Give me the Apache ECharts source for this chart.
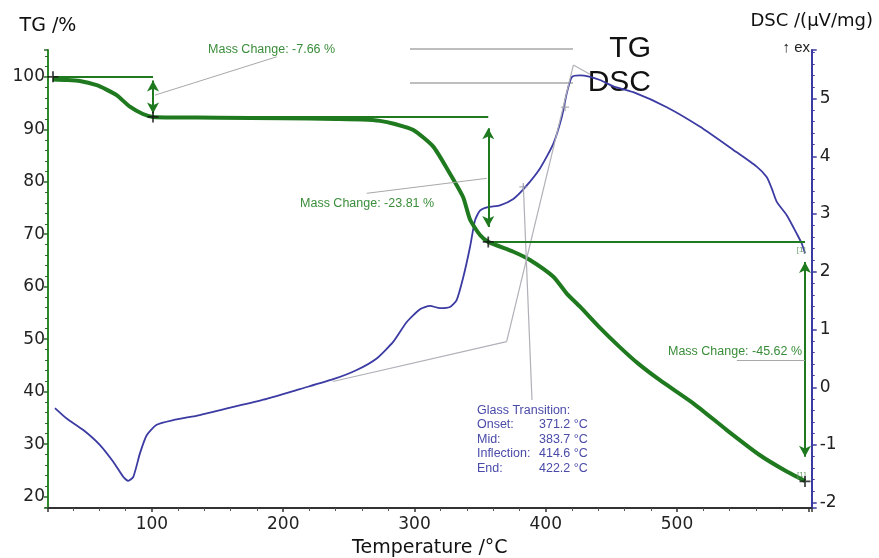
<!DOCTYPE html>
<html>
<head>
<meta charset="utf-8">
<script src="https://cdn.jsdelivr.net/npm/echarts@6/dist/echarts.min.js"></script>
<style>
  html, body { margin: 0; padding: 0; background: #fff; }
  #chart { width: 879px; height: 558px; }
</style>
</head>
<body>
<div id="chart"></div>
<script>
// TG curve (mass %) vs temperature
var tgTemp = [24.6, 35, 45, 57.9, 65, 73.1, 83.2, 93.1, 100.8, 120, 150, 200, 240, 260, 273.7, 285,
    299.1, 314.3, 325.5, 337, 342.3, 349.9, 356.2, 375.3, 388, 405.8, 416, 426.1, 440, 456, 470,
    487, 512.4, 537.9, 563.2, 583.6, 597.5];
var tgMass = [99.5, 99.4, 99.2, 98.4, 97.6, 96.5, 94.3, 92.9, 92.35, 92.25, 92.2, 92.1, 91.95, 91.85, 91.6, 91.0,
    89.85, 86.7, 82.2, 77.1, 72.8, 69.85, 68.55, 66.67, 65.1, 61.9, 58.7, 56.2, 52.5, 48.6, 45.45,
    42.2, 37.8, 32.7, 27.9, 24.8, 23.0];

// DSC curve (uV/mg) vs temperature
var dscTemp = [26.1, 35, 47.7, 60.4, 70.5, 78.1, 81.9, 85.8, 90.9, 96, 103.6, 116.2, 136.6, 162, 187.4,
    212.8, 238.1, 256, 271.2, 283.9, 294.1, 304.2, 311.8, 319.4, 327, 332.1, 337.2, 342.3, 346.1,
    349.9, 356, 365.1, 375.3, 384.2, 395.6, 405.8, 412.2, 416, 419.8, 426.1, 433, 441.3, 451.5,
    466.7, 492.2, 517.6, 542.9, 560.7, 568.3, 572.2, 576, 583.6, 591.2, 595, 597.5];
var dscVal = [-0.36, -0.54, -0.74, -1.0, -1.29, -1.55, -1.62, -1.55, -1.14, -0.83, -0.65, -0.57, -0.48, -0.34, -0.2,
    -0.03, 0.14, 0.3, 0.5, 0.79, 1.13, 1.35, 1.41, 1.37, 1.39, 1.51, 1.91, 2.43, 2.89,
    3.06, 3.12, 3.15, 3.26, 3.46, 3.79, 4.22, 4.68, 5.09, 5.37, 5.4, 5.38, 5.32, 5.21,
    5.11, 4.85, 4.51, 4.11, 3.82, 3.64, 3.44, 3.21, 2.98, 2.66, 2.49, 2.32];

// mass change evaluation
var stepTemps = [24.6, 100.8, 356.2, 597.5];
var massLevels = [100, 92.34, 68.53, 22.91];
var massChanges = ['-7.66', '-23.81', '-45.62'];
var arrowTop = [99.3, 90.2, 64.7];
var arrowBottom = [93.0, 71.4, 27.6];
var labelTemp = [142.7, 212.8, 493.1];
var labelMass = [105.1, 75.94, 47.56];
var leaderFrom = [[195, 103.8], [263.6, 77.8], [545.6, 46.0]];
var leaderTo = [[102.3, 96.5], [355, 80.65], [597.5, 46.0]];

// glass transition evaluation (DSC)
var gtNames = ['Onset:', 'Mid:', 'Inflection:', 'End:'];
var gtTemps = [371.2, 383.7, 414.6, 422.2];
var gtTangentTemp = [237.9, 370.2, 421.0, 433.7];
var gtTangentVal = [0.1, 0.79, 5.58, 5.42];
var gtMarkTemp = [382.9, 414.7];
var gtMarkVal = [3.47, 4.85];
var gtLeader = [[382.9, 3.5], [389.5, -0.22]];
var gtLabelPos = [347.6, -0.27];

var FONT = 'Liberation Sans, Arial, sans-serif';
var AXFONT = 'DejaVu Sans, Verdana, sans-serif';
var GREEN = '#1f7a1f';
var BLUE = '#3b3ba3';
var GREY = '#a8a8a8';
var CROSS = 'path://M0,4.2L10,4.2L10,5.8L0,5.8Z M4.2,0L5.8,0L5.8,10L4.2,10Z';

function pairs(xs, ys) {
    var out = [];
    for (var i = 0; i < xs.length; i++) out.push([xs[i], ys[i]]);
    return out;
}

var tgLines = [];
for (var i = 0; i < 3; i++) {
    // horizontal level lines
    tgLines.push([{ coord: [stepTemps[i], massLevels[i]], lineStyle: { color: GREEN, width: 2, type: 'solid' } },
        { coord: [stepTemps[i + 1], massLevels[i]] }]);
    // double arrows
    tgLines.push([{ coord: [stepTemps[i + 1], arrowTop[i]], symbol: 'arrow', lineStyle: { color: GREEN, width: 2, type: 'solid' } },
        { coord: [stepTemps[i + 1], arrowBottom[i]], symbol: 'arrow' }]);
    // grey leader
    tgLines.push([{ coord: leaderFrom[i], lineStyle: { color: GREY, width: 1, type: 'solid' } },
        { coord: leaderTo[i] }]);
}

var tgLabels = [];
for (var j = 0; j < 3; j++) {
    tgLabels.push({
        coord: [labelTemp[j], labelMass[j]],
        label: { formatter: 'Mass Change: ' + massChanges[j] + ' %', position: 'right', distance: 0,
            color: '#3a8d3a', fontSize: 12.5, fontFamily: FONT }
    });
}
tgLabels.push({ coord: [594.6, 67.0], label: { formatter: '[1]', position: 'inside', color: '#6a9a6a', fontSize: 8, fontFamily: FONT } });
tgLabels.push({ coord: [594.8, 24.1], label: { formatter: '[1]', position: 'inside', color: '#6a9a6a', fontSize: 8, fontFamily: FONT } });

var gtLines = [];
for (var k = 0; k < gtTangentTemp.length - 1; k++) {
    gtLines.push([{ coord: [gtTangentTemp[k], gtTangentVal[k]] }, { coord: [gtTangentTemp[k + 1], gtTangentVal[k + 1]] }]);
}
gtLines.push([{ coord: gtLeader[0] }, { coord: gtLeader[1] }]);

var gtText = '{h|Glass Transition:}';
for (var m = 0; m < gtNames.length; m++) {
    gtText += '\n{a|' + gtNames[m] + '}{b|' + gtTemps[m].toFixed(1) + ' °C}';
}

var chart = echarts.init(document.getElementById('chart'));
var option = {
    animation: false,
    backgroundColor: '#fff',
    textStyle: { fontFamily: FONT },
    grid: { left: 48, right: 67.3, top: 50, bottom: 50, containLabel: false, outerBoundsMode: 'none' },
    xAxis: {
        type: 'value', min: 20.8, max: 602.6, splitNumber: 6,
        name: 'Temperature /°C', nameLocation: 'middle', nameGap: 31,
        nameTextStyle: { color: '#111', fontSize: 19, fontFamily: AXFONT },
        axisLine: { onZero: false, lineStyle: { color: '#333', width: 2 } },
        axisTick: { length: 4, lineStyle: { color: '#333', width: 1.5 } },
        minorTick: { show: true, splitNumber: 5, length: 3, lineStyle: { color: '#555' } },
        splitLine: { show: false },
        axisLabel: {
            color: '#222', fontSize: 17, margin: 8, fontFamily: AXFONT,
            formatter: function (v) { return (v % 100 === 0 && v < 600) ? v : ''; }
        }
    },
    yAxis: [{
        type: 'value', min: 17.85, max: 105.1, splitNumber: 9,
        name: 'TG /%', nameLocation: 'end', nameGap: 14,
        nameTextStyle: { color: '#111', fontSize: 19, fontFamily: AXFONT },
        axisLine: { show: true, onZero: false, lineStyle: { color: '#2a8a2a', width: 2 } },
        axisTick: { length: 4, lineStyle: { color: '#2a6a2a', width: 1.5 } },
        minorTick: { show: true, splitNumber: 5, length: 3, lineStyle: { color: '#2a6a2a' } },
        splitLine: { show: false },
        axisLabel: {
            color: '#222', fontSize: 17, margin: 3, fontFamily: AXFONT,
            formatter: function (v) { return Math.abs(v % 10) < 1e-6 ? v : ''; }
        }
    }, {
        type: 'value', min: -2.09, max: 5.84, splitNumber: 8, position: 'right',
        name: 'DSC /(μV/mg)', nameLocation: 'end', nameGap: 20,
        nameTextStyle: { color: '#111', fontSize: 18, fontFamily: AXFONT },
        axisLine: { show: true, onZero: false, lineStyle: { color: BLUE, width: 2 } },
        axisTick: { length: 5, lineStyle: { color: BLUE, width: 1.5 } },
        minorTick: { show: true, splitNumber: 5, length: 3, lineStyle: { color: BLUE } },
        splitLine: { show: false },
        axisLabel: {
            color: '#222', fontSize: 17, margin: 8, fontFamily: AXFONT,
            formatter: function (v) { return Math.abs(v - Math.round(v)) < 1e-6 ? v : ''; }
        }
    }],
    series: [{
        name: 'DSC', type: 'line', yAxisIndex: 1, smooth: 0.2, symbol: 'none', silent: true, z: 3,
        lineStyle: { color: BLUE, width: 1.8 },
        data: pairs(dscTemp, dscVal),
        markLine: {
            silent: true, symbol: ['none', 'none'], label: { show: false },
            lineStyle: { color: '#b0b0b8', width: 1.2, type: 'solid' },
            data: gtLines
        },
        markPoint: {
            silent: true, symbolSize: 0,
            data: [{
                coord: gtLabelPos,
                label: {
                    formatter: gtText, position: [0, 0], fontFamily: FONT,
                    rich: {
                        h: { color: '#4a4aa8', fontSize: 12.5, lineHeight: 14.5, fontFamily: FONT },
                        a: { color: '#4a4aa8', fontSize: 12.5, lineHeight: 14.5, width: 62, fontFamily: FONT },
                        b: { color: '#4a4aa8', fontSize: 12.5, lineHeight: 14.5, fontFamily: FONT }
                    }
                }
            }]
        }
    }, {
        name: 'TG', type: 'line', yAxisIndex: 0, smooth: 0.2, symbol: 'none', silent: true, z: 4,
        lineStyle: { color: GREEN, width: 4 },
        data: pairs(tgTemp, tgMass),
        markLine: {
            silent: true, symbol: ['none', 'none'], symbolSize: [9, 11], label: { show: false },
            data: tgLines
        },
        markPoint: {
            silent: true, symbolSize: 0,
            data: tgLabels
        }
    }, {
        name: 'steps', type: 'scatter', yAxisIndex: 0, silent: true, z: 6,
        symbol: CROSS, symbolSize: 11, itemStyle: { color: '#111' },
        data: pairs(stepTemps, massLevels)
    }, {
        name: 'gt', type: 'scatter', yAxisIndex: 1, silent: true, z: 5,
        symbol: CROSS, symbolSize: 8, itemStyle: { color: '#9a9aa6' },
        data: pairs(gtMarkTemp, gtMarkVal)
    }],
    graphic: [
        { type: 'line', shape: { x1: 410, y1: 49, x2: 573, y2: 49 }, style: { stroke: GREY, lineWidth: 1.5 }, silent: true },
        { type: 'line', shape: { x1: 410, y1: 83, x2: 573, y2: 83 }, style: { stroke: GREY, lineWidth: 1.5 }, silent: true },
        { type: 'text', x: 651, y: 49, style: { text: 'TG', fill: '#111', font: '30px ' + FONT, textAlign: 'right', textVerticalAlign: 'middle' }, silent: true },
        { type: 'text', x: 651, y: 83, style: { text: 'DSC', fill: '#111', font: '30px ' + FONT, textAlign: 'right', textVerticalAlign: 'middle' }, silent: true },
        { type: 'text', x: 810, y: 48, style: { text: '↑ ex', fill: '#222', font: '15px ' + FONT, textAlign: 'right', textVerticalAlign: 'middle' }, silent: true }
    ]
};
chart.setOption(option);
</script>
</body>
</html>
